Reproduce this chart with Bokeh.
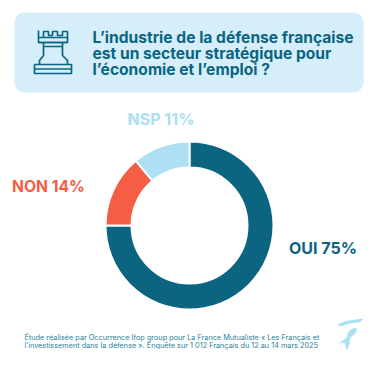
from math import pi
from bokeh.plotting import figure
from bokeh.models import Range1d, ColumnDataSource, Label
from bokeh.embed import file_html
from bokeh.resources import INLINE

categories = ["OUI", "NON", "NSP"]
values = [75, 14, 11]
colors = ["#0B6580", "#F55D45", "#ACE0F2"]
labels = ["OUI 75%", "NON 14%", "NSP 11%"]
title_lines = ["L\u2019industrie de la défense française",
               "est un secteur stratégique pour",
               "l\u2019économie et l\u2019emploi ?"]
foot_lines = ["Étude réalisée par Occurrence Ifop group pour La France Mutualiste « Les Français et",
              "l\u2019investissement dans la défense ». Enquête sur 1 012 Français du 12 au 14 mars 2025"]
DARK = "#0B6580"

p = figure(width=377, height=368, output_backend="svg", toolbar_location=None,
           x_range=Range1d(0, 377), y_range=Range1d(368, 0),
           min_border=0, outline_line_color=None)
p.axis.visible = False
p.grid.visible = False
p.background_fill_color = "white"

# header box
p.quad(left=[14], right=[363], top=[12], bottom=[92], fill_color="#D5EEFA", line_color=None,
       border_radius=10)

# rook
rook_x = [[38, 38, 43, 43, 48, 48, 52, 52, 57, 57, 62, 62, 67, 67, 38],
          [38, 67], [43, 43, 39, 39], [62, 62, 67, 67], [34, 34, 71, 71, 34], [34, 71], [43, 62]]
rook_y = [[30, 37, 37, 31, 31, 35, 35, 31, 31, 35, 35, 31, 31, 37, 37],
          [42, 42], [42, 55, 60, 64], [42, 55, 60, 64], [64, 73, 73, 64, 64], [68.5, 68.5], [46, 46]]
p.multi_line(xs=rook_x, ys=rook_y, line_color=DARK, line_width=1.7)
p.line([38, 38, 67, 67], [37, 42, 42, 37], line_color=DARK, line_width=1.7)

# donut
cx, cy, r_out, r_in = 189, 225, 84, 58
tot = sum(values)
starts, ends = [], []
a = 0.0
for v in values:
    starts.append(pi / 2 - (a + v) / tot * 2 * pi)
    ends.append(pi / 2 - a / tot * 2 * pi)
    a += v
src = ColumnDataSource(dict(cat=categories, val=values, c=colors, s=starts, e=ends))
p.annular_wedge(x=cx, y=cy, inner_radius=r_in, outer_radius=r_out, start_angle="s", end_angle="e",
                fill_color="c", line_color="white", line_width=2, source=src, direction="anticlock")

def lab(x, y, t, size, color, bold=True, font="Inter"):
    p.add_layout(Label(x=x, y=y, text=t, text_font=font, text_font_size=f"{size}px",
                       text_font_style="bold" if bold else "normal", text_color=color,
                       text_baseline="middle", text_align="left"))

for i, t in enumerate(title_lines):
    lab(92, 36.5 + i * 16, t, 15.6, DARK)
lab(288.5, 247, labels[0], 16, DARK)
lab(11.5, 186, labels[1], 15.7, colors[1])
lab(127, 118, labels[2], 16, colors[2])
for i, t in enumerate(foot_lines):
    lab(24, 336.5 + i * 8.7, t, 7.3, "#2B7F99", bold=False)

# logo
p.patch([337, 345, 363, 360, 347, 340], [324, 320.5, 318, 321.5, 323.5, 326],
        fill_color="#ACE0F2", line_color=None)
p.patch([356, 350, 347, 346, 338, 344, 345, 347, 349, 350, 356],
        [327, 329, 333, 337, 343, 342, 346, 350, 343, 337, 332],
        fill_color="#ACE0F2", line_color=None)

open("out.html", "w").write(file_html(p, INLINE))
